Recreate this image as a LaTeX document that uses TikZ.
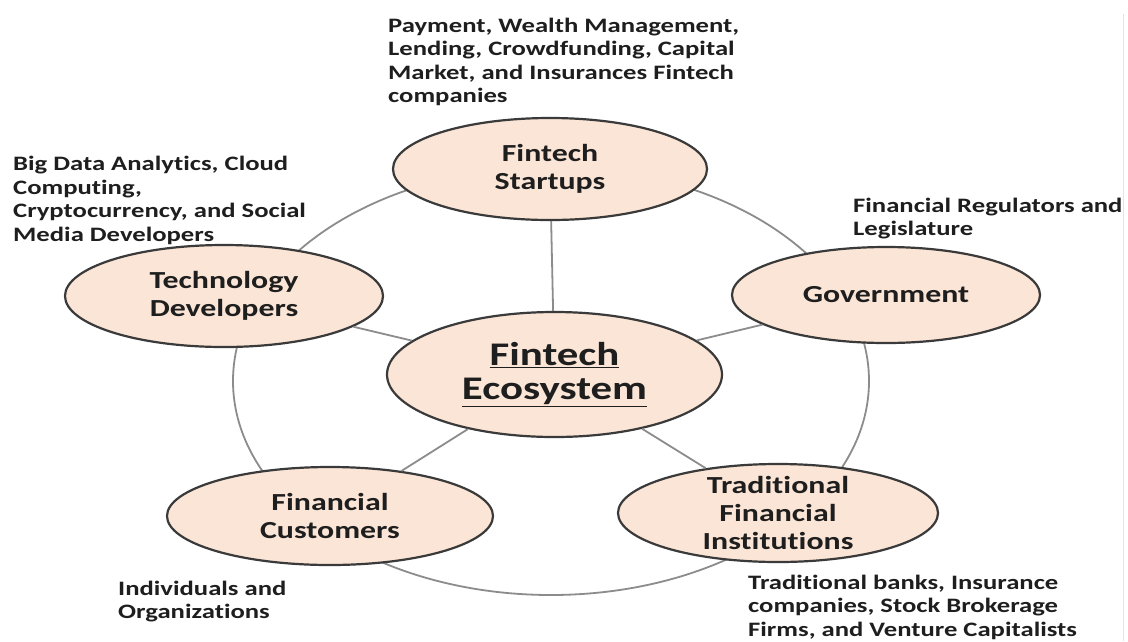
\documentclass[tikz,border=0pt]{standalone}
\usepackage{fontspec}
\setmainfont[FakeStretch=1.3, Ligatures=NoCommon]{Carlito}
\usetikzlibrary{shapes.geometric}
\definecolor{peach}{HTML}{FBE5D6}
\definecolor{edgegray}{HTML}{3A3A3A}
\definecolor{spokegray}{HTML}{8C8C8C}
\definecolor{ink}{HTML}{1E1E1E}
\definecolor{rulegray}{HTML}{E4E4E4}
\newcommand{\desctext}[1]{\parbox[t]{500pt}{\raggedright\fontsize{20.5}{23.5}\selectfont\bfseries #1}}
\begin{document}
\begin{tikzpicture}[x=1pt,y=-1pt,
  actor/.style={ellipse, draw=edgegray, line width=2.2pt, fill=peach, inner sep=0pt},
  title/.style={align=center, text=ink, inner sep=0pt, font=\fontsize{24.5}{28}\selectfont\bfseries},
  bigtitle/.style={align=center, text=ink, inner sep=0pt, font=\fontsize{33}{34}\selectfont\bfseries},
  spoke/.style={draw=spokegray, line width=1.8pt},
  desc/.style={anchor=base west, inner sep=0pt, text=ink}]
\useasboundingbox (0,0) rectangle (1128,641);
\fill[white] (0,0) rectangle (1128,641);
\draw[rulegray, line width=1pt] (1123,14) -- (1123,641);
% outer ring
\node[ellipse, draw=spokegray, line width=1.8pt, inner sep=0pt,
      minimum width=636pt, minimum height=428pt] (ring) at (551,381) {};
% ellipses
\node[actor, minimum width=314pt, minimum height=102pt] (startups) at (550,169) {};
\node[actor, minimum width=318pt, minimum height=102pt] (tech) at (224,296) {};
\node[actor, minimum width=308pt, minimum height=96pt] (gov) at (886,295) {};
\node[actor, minimum width=326pt, minimum height=98pt] (cust) at (330,516) {};
\node[actor, minimum width=320pt, minimum height=98pt] (trad) at (778,513) {};
\node[actor, minimum width=335pt, minimum height=125pt] (eco) at (554.5,374.5) {};
% spokes
\draw[spoke] (eco) -- (startups);
\draw[spoke] (eco) -- (tech);
\draw[spoke] (eco) -- (gov);
\draw[spoke] (eco) -- (cust);
\draw[spoke] (eco) -- (trad);
% titles
\node[title] (startups-t) at (startups.center) {Fintech\\Startups};
\node[title] (tech-t) at (tech.center) {Technology\\Developers};
\node[title] (gov-t) at (gov.center) {Government};
\node[title] (cust-t) at (cust.center) {Financial\\Customers};
\node[title] (trad-t) at (trad.center) {Traditional\\Financial\\Institutions};
\node[bigtitle] (eco-t) at (eco.center) {\underline{Fintech}\\\underline{Ecosystem}};
% descriptions
\node[desc] (d-top) at (388,32) {\desctext{Payment, Wealth Management,\\Lending, Crowdfunding, Capital\\Market, and Insurances Fintech\\companies}};
\node[desc] (d-left) at (13,170.5) {\desctext{Big Data Analytics, Cloud\\Computing,\\Cryptocurrency, and Social\\Media Developers}};
\node[desc] (d-right) at (853,212) {\desctext{Financial Regulators and\\Legislature}};
\node[desc] (d-bl) at (118,595) {\desctext{Individuals and\\Organizations}};
\node[desc] (d-br) at (748,589) {\desctext{Traditional banks, Insurance\\companies, Stock Brokerage\\Firms, and Venture Capitalists}};
\end{tikzpicture}
\end{document}
